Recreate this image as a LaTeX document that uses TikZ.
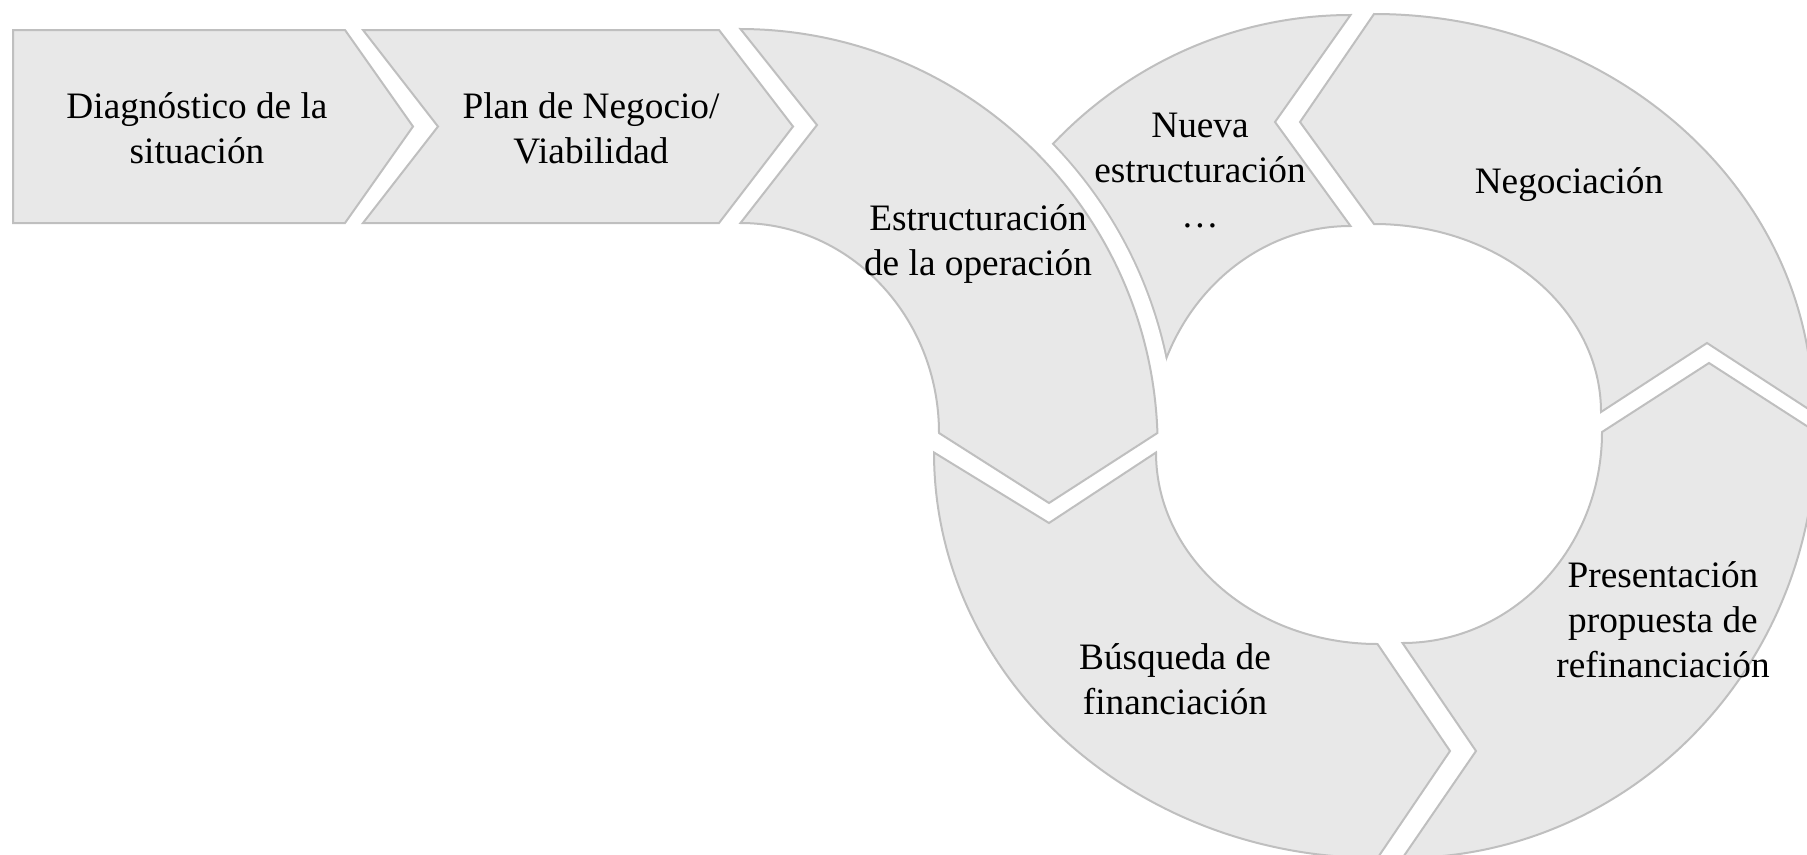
\documentclass[tikz,border=0pt]{standalone}
\usepackage{fontspec}
\setmainfont{Liberation Serif}
\definecolor{piecefill}{HTML}{E8E8E8}
\definecolor{pieceline}{HTML}{BFBFBF}
\def\pathNueva{(1350.5,15) -- (1275,122) -- (1350.5,226)
  arc[start angle=90,end angle=180,x radius=200pt,y radius=217pt]
  -- (934.5,443)
  arc[start angle=180,end angle=90,x radius=416pt,y radius=428pt] -- cycle}
\def\pathEstr{(740.5,29)
  arc[start angle=89.86,end angle=1.95,radius=418.2pt]
  -- (1049,503) -- (939,433)
  arc[start angle=0,end angle=90,x radius=198.5pt,y radius=210pt]
  -- (817,125) -- cycle}
\begin{document}
\begin{tikzpicture}[x=1pt,y=-1pt,
  piece/.style={fill=piecefill,draw=pieceline,line width=2pt},
  lbl/.style={font=\fontsize{37.3}{45}\selectfont,align=center,inner sep=0pt,text=black}]
\useasboundingbox (0,0) rectangle (1807,854);
% Nueva estructuracion (partly hidden behind Estructuracion)
\filldraw[piece] \pathNueva;
\begin{scope}
  \clip \pathNueva;
  \draw[pieceline,line width=38pt,line join=round] \pathEstr;
\end{scope}
\draw[white,line width=34pt,line join=round] \pathEstr;
% chevrons
\filldraw[piece] (13,30) -- (345,30) -- (413,126.5) -- (345,223) -- (13,223) -- cycle;
\filldraw[piece] (363,30) -- (719,30) -- (793,126.5) -- (719,223) -- (363,223) -- (438,126.5) -- cycle;
% Estructuracion
\filldraw[piece] \pathEstr;
% Busqueda
\filldraw[piece] (934,452.5) -- (1049,523) -- (1156,452.5)
  arc[start angle=180,end angle=270,x radius=221.5pt,y radius=191.5pt]
  -- (1450,751) -- (1377.5,858)
  arc[start angle=270,end angle=180,x radius=443.5pt,y radius=405.5pt] -- cycle;
% Presentacion
\filldraw[piece] (1402.5,858) -- (1476,751) -- (1402.5,643)
  arc[start angle=270,end angle=360,x radius=199.5pt,y radius=211pt]
  -- (1709,363) -- (1816,432)
  arc[start angle=0,end angle=-90,x radius=413.5pt,y radius=426pt] -- cycle;
% Negociacion
\filldraw[piece] (1374,14)
  arc[start angle=90,end angle=0,x radius=439pt,y radius=398pt]
  -- (1707,343) -- (1601,412)
  arc[start angle=0,end angle=90,x radius=227pt,y radius=188pt]
  -- (1300,122) -- cycle;
% labels
\node[lbl] (diag) at (197,131.5) {\strut Diagnóstico de la\\\strut situación};
\node[lbl] (plan) at (591,131.5) {\strut Plan de Negocio/\\\strut Viabilidad};
\node[lbl] (estr) at (978,243.5) {\strut Estructuración\\\strut de la operación};
\node[lbl] (nueva) at (1200,173) {\strut Nueva\\\strut estructuración\\\strut …};
\node[lbl] (nego) at (1569,184) {\strut Negociación};
\node[lbl] (busq) at (1175,682.5) {\strut Búsqueda de\\\strut financiación};
\node[lbl] (pres) at (1663,623.5) {\strut Presentación\\\strut propuesta de\\\strut refinanciación};
\end{tikzpicture}
\end{document}
